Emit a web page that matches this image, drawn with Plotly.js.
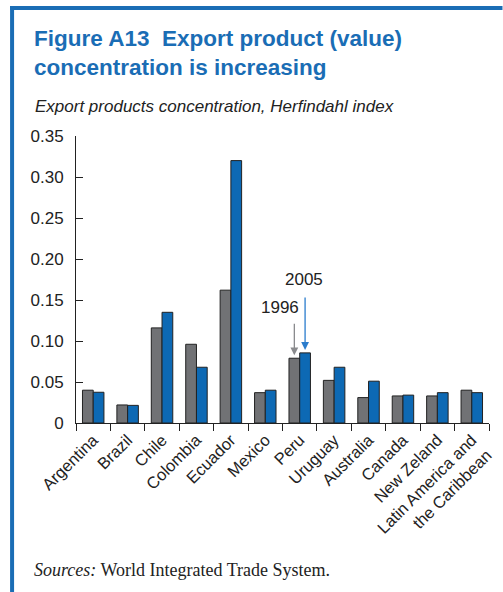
<!DOCTYPE html>
<html>
<head>
<meta charset="utf-8">
<script src="https://cdn.plot.ly/plotly-3.0.1.min.js"></script>
<style>
html,body{margin:0;padding:0;background:#fff;}
#chart{width:503px;height:592px;}
</style>
</head>
<body>
<div id="chart"></div>
<script>
const categories = ["Argentina","Brazil","Chile","Colombia","Ecuador","Mexico","Peru","Uruguay","Australia","Canada","New Zeland","Latin America and<br>the Caribbean"];
const values1996 = [0.040,0.022,0.116,0.096,0.162,0.037,0.079,0.052,0.031,0.033,0.033,0.040];
const values2005 = [0.0375,0.0215,0.135,0.068,0.320,0.040,0.0855,0.068,0.051,0.034,0.037,0.037];
const yTickVals = [0,0.05,0.10,0.15,0.20,0.25,0.30,0.35];
const yTickText = ["0","0.05","0.10","0.15","0.20","0.25","0.30","0.35"];

const W=503,H=592,L=76,R=13.5,T=136,B=169;
const pw=W-L-R, ph=H-T-B;
const px=x=>(x-L)/pw, py=y=>(H-B-y)/ph;

const BLUE="#0d69b4", GRAY="#717275", TBLUE="#1a6db5";
const bargap=0.376;
const off=(1-bargap)/4;

const traces=[
 {type:"bar",name:"1996",x:categories,y:values1996,marker:{color:GRAY,line:{color:"#222",width:1}}},
 {type:"bar",name:"2005",x:categories,y:values2005,marker:{color:BLUE,line:{color:"#222",width:1}}}
];

const layout={
 width:W,height:H,
 margin:{l:L,r:R,t:T,b:B,pad:0},
 paper_bgcolor:"#fff",plot_bgcolor:"#fff",
 showlegend:false,
 barmode:"group",bargap:bargap,bargroupgap:0,
 font:{family:"Liberation Sans, Arial, sans-serif",color:"#222"},
 title:{text:"<b>Figure A13\u00a0 Export product (value)<br>concentration is increasing</b>",
   font:{family:"Liberation Sans, Arial, sans-serif",size:22.5,color:TBLUE},
   xref:"container",yref:"container",x:34/W,xanchor:"left",y:1-46/H,yanchor:"top"},
 xaxis:{type:"category",showline:true,linecolor:"#222",linewidth:1,ticks:"outside",ticklen:7,tickcolor:"#222",
   tickson:"boundaries",tickangle:-45,tickfont:{size:16.5,color:"#222"},showgrid:false,zeroline:false,fixedrange:true},
 yaxis:{range:[0,0.35],showline:true,linecolor:"#222",linewidth:1,ticks:"inside",ticklen:7,tickcolor:"#222",
   tickvals:yTickVals,ticktext:yTickText,tickfont:{size:17,color:"#222"},showgrid:false,zeroline:false,ticklabelstandoff:8},
 shapes:[
  {type:"rect",xref:"paper",yref:"paper",x0:px(10),x1:px(14),y0:py(592),y1:py(6),fillcolor:TBLUE,line:{width:0}},
  {type:"rect",xref:"paper",yref:"paper",x0:px(10),x1:px(503),y0:py(10),y1:py(6),fillcolor:TBLUE,line:{width:0}}
 ],
 annotations:[
  {xref:"paper",yref:"paper",x:px(33),y:py(107),xanchor:"left",yanchor:"middle",showarrow:false,
   text:"<i>Export products concentration, Herfindahl index</i>",font:{size:17,color:"#222"}},
  {xref:"paper",yref:"paper",x:px(32),y:py(570),xanchor:"left",yanchor:"middle",showarrow:false,
   text:"<i>Sources:</i> World Integrated Trade System.",font:{family:"Liberation Serif, Times New Roman, serif",size:18,color:"#222"}},
  {xref:"paper",yref:"paper",x:px(280),y:py(307),xanchor:"center",yanchor:"middle",showarrow:false,text:"1996",font:{size:17,color:"#222"}},
  {xref:"paper",yref:"paper",x:px(304.5),y:py(279),xanchor:"center",yanchor:"middle",showarrow:false,text:"2005",font:{size:17,color:"#222"}},
  {xref:"x",yref:"y",x:6-off,y:values1996[6],ax:0,ay:-36,text:"",showarrow:true,arrowhead:2,arrowsize:1.2,arrowwidth:1.3,arrowcolor:"#8a8b8e",standoff:3},
  {xref:"x",yref:"y",x:6+off,y:values2005[6],ax:0,ay:-57,text:"",showarrow:true,arrowhead:2,arrowsize:1.2,arrowwidth:1.3,arrowcolor:"#2a7ccc",standoff:3}
 ]
};
Plotly.newPlot("chart",traces,layout,{staticPlot:true});
</script>
</body>
</html>
